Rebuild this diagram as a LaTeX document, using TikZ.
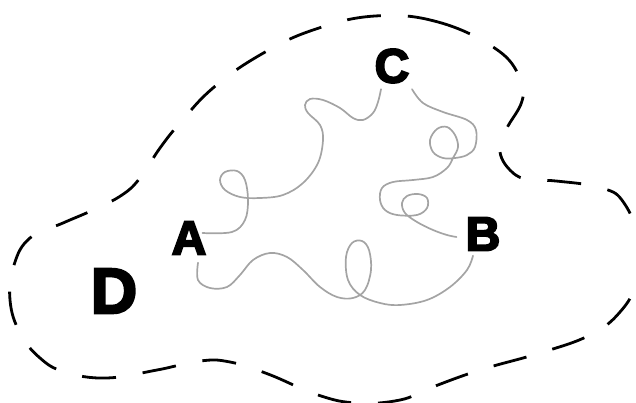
\documentclass[tikz,border=0pt]{standalone}
\usepackage{fontspec}
\usetikzlibrary{positioning}
\font\letterfont="Liberation Sans/B:embolden=4" at 48pt
\font\bigletterfont="Liberation Sans/B:embolden=4" at 64pt
\definecolor{StrandGray}{HTML}{A4A4A4}

\begin{document}
\begin{tikzpicture}[x=1pt, y=-1pt,
    letter/.style={inner sep=0pt, font=\letterfont},
    strand/.style={StrandGray, line width=1.7pt, line cap=round},
    region/.style={line width=2.8pt, dash pattern=on 34pt off 27pt}
  ]
  \useasboundingbox (0,0) rectangle (636,403);

  \node[letter] (C) at (392,66) {C};
  \node[letter] (A) at (189,238) {A};
  \node[letter] (B) at (483,234) {B};
  \node[letter, font=\bigletterfont] (D) at (114,291) {D};

  \draw[region] plot[smooth cycle, tension=0.7] coordinates {
    (375,16) (438,22) (496,49) (520,78) (522,101) (506,130) (500,152)
    (512,172) (530,180) (556,181) (602,188) (624,203) (638,240) (636,282)
    (620,312) (590,335) (540,353) (480,370) (430,388) (400,400) (357,403)
    (318,395) (268,374) (230,362) (200,361) (157,370) (106,378) (65,372)
    (40,358) (20,333) (10,300) (14,265) (30,238) (63,223) (93,210)
    (122,195) (140,178) (160,148) (180,123) (213,88) (260,55) (313,30)};

  \draw[strand] plot[smooth, tension=0.6] coordinates {
    ([xshift=-4pt, yshift=5pt]A.east) (232,232) (245,220) (248,200) (245,180)
    (237,171) (225,172) (220,180) (225,190) (240,197) (260,198) (283,195)
    (303,183) (318,163) (323,140) (320,125) (308,113) (305,105) (310,99)
    (323,100) (340,108) (353,118) (363,120) (373,113) (378,102)
    ([xshift=-11pt, yshift=-6pt]C.south)};

  \draw[strand] plot[smooth, tension=0.6] coordinates {
    ([xshift=20pt, yshift=-6pt]C.south) (423,103) (443,112) (467,120) (476,130)
    (475,147) (467,155) (455,158) (443,158) (433,152) (430,140) (437,129)
    (447,127) (455,135) (458,147) (453,158) (447,168) (433,177) (413,180)
    (393,182) (382,188) (380,200) (385,210) (397,215) (417,215) (427,208)
    (427,198) (418,194) (407,196) (402,203) (405,213) (417,222) (433,230)
    (447,235) ([xshift=-9pt, yshift=-3pt]B.west)};

  \draw[strand] plot[smooth, tension=0.6] coordinates {
    ([xshift=9pt, yshift=-8pt]A.south) (198,280) (210,288) (227,287) (240,275)
    (253,260) (270,253) (287,257) (303,270) (320,287) (337,297) (353,298)
    (365,290) (371,270) (369,250) (362,241) (352,243) (346,257) (348,280)
    (360,295) (380,303) (400,305) (427,300) (450,287) (467,270)
    ([xshift=-10pt, yshift=-5pt]B.south)};
\end{tikzpicture}
\end{document}
